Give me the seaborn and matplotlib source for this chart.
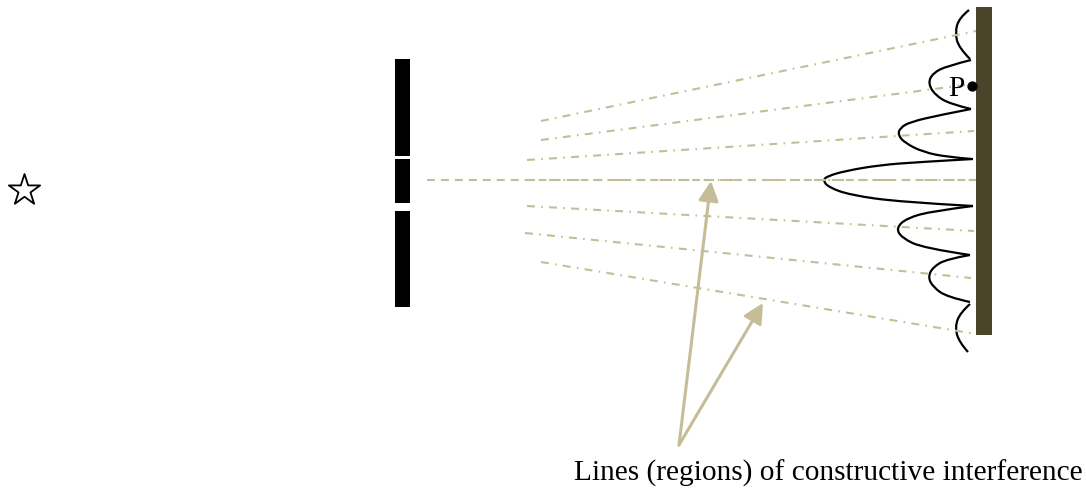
import seaborn as sns
import matplotlib.pyplot as plt
from matplotlib.patches import Rectangle, PathPatch
from matplotlib.path import Path

sns.set_theme(style='white')
plt.rcParams['font.family'] = ['Liberation Serif', 'DejaVu Serif']

ray_x0 = [541, 541, 527, 527, 525, 541]
ray_y0 = [121, 140, 160, 206, 233, 262]
ray_x1 = [976, 965, 974, 974, 971, 976]
ray_y1 = [31, 85, 131, 231, 278, 334]

lobe1_x = [969, 959, 955, 959, 970]
lobe1_y = [10, 18, 33, 48, 59]
lobe2_x = [971, 947, 933, 928, 935, 950, 971]
lobe2_y = [60, 66, 73, 83, 95, 104, 109]
lobe3_x = [971, 940, 910, 900, 898, 905, 923, 947, 972]
lobe3_y = [109, 115, 122, 128, 135, 143, 152, 157, 159]
lobe4_x = [973, 920, 880, 845, 828, 823, 828, 850, 900, 973]
lobe4_y = [159, 162, 165, 171, 176, 180, 187, 195, 202, 206]
lobe5_x = [973, 933, 907, 896, 902, 923, 970]
lobe5_y = [206, 211, 218, 228, 238, 248, 255]
lobe6_x = [970, 947, 933, 928, 933, 947, 970]
lobe6_y = [255, 259, 267, 277, 287, 297, 302]
lobe7_x = [970, 960, 955, 959, 968]
lobe7_y = [304, 313, 327, 342, 352]

slit_top = [59, 159, 211]
slit_bottom = [156, 203, 307]

arrow_tips = [(711, 181), (763, 303)]
arrow_base = (679, 445)

label_text = 'Lines (regions) of constructive interference'
point_label = 'P'

tan = '#c4bd97'
screen_col = '#4a452a'

fig, ax = plt.subplots(figsize=(10.86, 4.88), dpi=100)
fig.subplots_adjust(0, 0, 1, 1)

# rays
dashdot = (0, (3.8, 3.0, 0.8, 3.0))
for x0, y0, x1, y1 in zip(ray_x0, ray_y0, ray_x1, ray_y1):
    sns.lineplot(x=[x0, x1], y=[y0, y1], sort=False, estimator=None, color=tan,
                 linewidth=1.5, linestyle=dashdot, dash_capstyle='butt', ax=ax)

# central line, dashed and dash-dot laid over each other
sns.lineplot(x=[427, 976], y=[180, 180], sort=False, estimator=None, color=tan,
             linewidth=1.5, linestyle=(0, (3.8, 2.9)), dash_capstyle='butt', ax=ax)
sns.lineplot(x=[527, 976], y=[180, 180], sort=False, estimator=None, color=tan,
             linewidth=1.5, linestyle=dashdot, dash_capstyle='butt', ax=ax)


# intensity pattern, each lobe a smooth curve with the read points as guides
def draw_lobe(xs, ys):
    pts = list(zip(xs, ys))
    verts = [pts[0]]
    codes = [Path.MOVETO]
    for i in range(1, len(pts) - 1):
        if i < len(pts) - 2:
            end = ((pts[i][0] + pts[i + 1][0]) / 2, (pts[i][1] + pts[i + 1][1]) / 2)
        else:
            end = pts[-1]
        verts += [pts[i], end]
        codes += [Path.CURVE3, Path.CURVE3]
    ax.add_patch(PathPatch(Path(verts, codes), fc='none', ec='black', lw=1.6))


for xs, ys in [(lobe1_x, lobe1_y), (lobe2_x, lobe2_y), (lobe3_x, lobe3_y), (lobe4_x, lobe4_y),
               (lobe5_x, lobe5_y), (lobe6_x, lobe6_y), (lobe7_x, lobe7_y)]:
    draw_lobe(xs, ys)

# slits and screen
for top, bottom in zip(slit_top, slit_bottom):
    ax.add_patch(Rectangle((394.5, top), 15.5, bottom - top, color='black', lw=0))
ax.add_patch(Rectangle((976, 7), 15.5, 328, color=screen_col, lw=0, zorder=3))

# source star and point P
sns.scatterplot(x=[24], y=[190], marker='*', s=560, color='white', edgecolor='black',
                linewidth=1.3, ax=ax)
sns.scatterplot(x=[972], y=[86], s=55, color='black', linewidth=0, zorder=4, ax=ax)
ax.text(956.5, 88.5, point_label, fontsize=21.2, color='black', ha='center', va='center')

for tip in arrow_tips:
    ax.annotate('', xy=tip, xytext=arrow_base,
                arrowprops=dict(arrowstyle='-|>,head_length=0.75,head_width=0.38', color=tan,
                                lw=2.2, shrinkA=0, shrinkB=0, mutation_scale=16))

ax.text(828.5, 473, label_text, fontsize=21.16, color='black', ha='center', va='center')

ax.set_xlim(0, 1086)
ax.set_ylim(488, 0)
ax.set_xlabel('')
ax.set_ylabel('')
ax.axis('off')

fig.savefig('out.png', dpi=100)
